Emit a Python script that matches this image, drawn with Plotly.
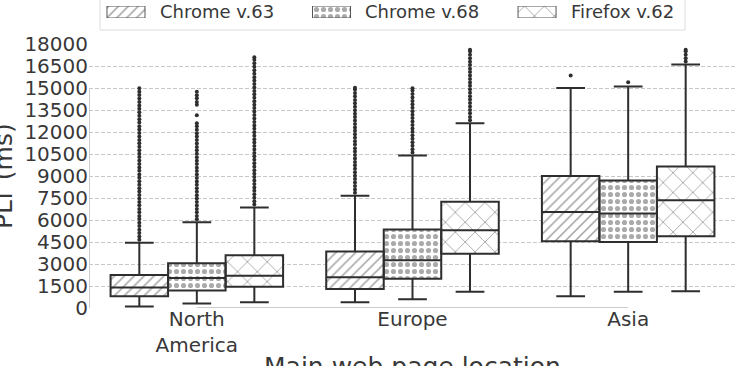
import plotly.graph_objects as go

# ---------------- data ----------------
regions = ["North<br>America", "Europe", "Asia"]
browsers = ["Chrome v.63", "Chrome v.68", "Firefox v.62"]

c63_q1 = [800, 1300, 4550]
c63_med = [1400, 2100, 6550]
c63_q3 = [2250, 3850, 9000]
c63_lo = [100, 400, 800]
c63_hi = [4450, 7650, 15000]
c63_out = [
    [4650, 4880, 5120, 5340, 5590, 5810, 6060, 6280, 6530, 6750, 7000, 7230, 7470, 7700, 7940,
     8160, 8410, 8640, 8880, 9110, 9350, 9580, 9820, 10050, 10290, 10520, 10760, 10990, 11230,
     11460, 11700, 11930, 12170, 12400, 12640, 12870, 13110, 13340, 13580, 13810, 14050, 14280,
     14520, 14750, 14980],
    [7850, 8080, 8320, 8550, 8790, 9020, 9260, 9490, 9730, 9960, 10200, 10430, 10670, 10900,
     11140, 11370, 11610, 11840, 12080, 12310, 12550, 12780, 13020, 13250, 13490, 13720, 13960,
     14190, 14430, 14660, 14900, 15020],
    [15850],
]

c68_q1 = [1200, 2000, 4500]
c68_med = [2050, 3250, 6450]
c68_q3 = [3050, 5350, 8700]
c68_lo = [300, 600, 1100]
c68_hi = [5850, 10400, 15100]
c68_out = [
    [6050, 6280, 6520, 6750, 6990, 7220, 7460, 7690, 7930, 8160, 8400, 8630, 8870, 9100, 9340,
     9570, 9810, 10040, 10280, 10510, 10750, 10980, 11220, 11450, 11690, 11920, 12160, 12390,
     12600, 13150, 13850, 14050, 14300, 14500, 14750],
    [10600, 10830, 11070, 11300, 11540, 11770, 12010, 12240, 12480, 12710, 12950, 13180, 13420,
     13650, 13890, 14120, 14360, 14590, 14830, 14980],
    [15400],
]

ff62_q1 = [1450, 3700, 4900]
ff62_med = [2200, 5300, 7350]
ff62_q3 = [3600, 7250, 9650]
ff62_lo = [400, 1100, 1150]
ff62_hi = [6850, 12600, 16600]
ff62_out = [
    [7050, 7280, 7520, 7750, 7990, 8220, 8460, 8690, 8930, 9160, 9400, 9630, 9870, 10100, 10340,
     10570, 10810, 11040, 11280, 11510, 11750, 11980, 12220, 12450, 12690, 12920, 13160, 13390,
     13630, 13860, 14100, 14330, 14570, 14800, 15040, 15270, 15510, 15740, 15980, 16210, 16450,
     16680, 16920, 17100],
    [12800, 13030, 13270, 13500, 13740, 13970, 14210, 14440, 14680, 14910, 15150, 15380, 15620,
     15850, 16090, 16320, 16560, 16790, 17030, 17260, 17500, 17600],
    [16800, 17030, 17270, 17500, 17600],
]

y_ticks = list(range(0, 18001, 1500))

# ---------------- style ----------------
FONT = "DejaVu Sans"
TXT = "#383838"
EDGE = "#2e2e2e"
GROUP_W = 0.8
BW = GROUP_W / 3
patterns = [dict(shape="/", size=7, solidity=0.22, fgcolor="#444444", bgcolor="white"),
            dict(shape=".", size=7, solidity=0.42, fgcolor="#555555", bgcolor="white"),
            dict(shape="x", size=14, solidity=0.12, fgcolor="#444444", bgcolor="white")]

series = [
    (c63_q1, c63_med, c63_q3, c63_lo, c63_hi, c63_out),
    (c68_q1, c68_med, c68_q3, c68_lo, c68_hi, c68_out),
    (ff62_q1, ff62_med, ff62_q3, ff62_lo, ff62_hi, ff62_out),
]

fig = go.Figure()
for k, (q1, med, q3, lo, hi, outs) in enumerate(series):
    off = (k - 1) * BW
    xs = [i + off for i in range(len(regions))]
    fig.add_trace(go.Bar(
        x=xs, y=[b - a for a, b in zip(q1, q3)], base=q1, width=BW,
        marker=dict(color="white", line=dict(width=0), pattern=patterns[k]),
        showlegend=False, hoverinfo="skip"))
    fig.add_trace(go.Box(
        x=xs, q1=q1, median=med, q3=q3, lowerfence=lo, upperfence=hi,
        width=BW, whiskerwidth=0.5, fillcolor="rgba(0,0,0,0)",
        line=dict(color=EDGE, width=2), boxpoints=False,
        name=browsers[k], showlegend=False))
    ox, oy = [], []
    for i, vals in enumerate(outs):
        for v in vals:
            ox.append(i + off)
            oy.append(v)
    fig.add_trace(go.Scatter(
        x=ox, y=oy, mode="markers",
        marker=dict(size=4, color=EDGE, line=dict(width=0)),
        showlegend=False, hoverinfo="skip"))

# ---------- custom legend (wide hatched patches) on its own axes ----------
leg_slots = list(range(len(browsers)))
for k in leg_slots:
    fig.add_trace(go.Bar(
        x=[k], y=[1], base=[0], width=0.185, xaxis="x2", yaxis="y2",
        marker=dict(color="white", line=dict(width=1, color="#555555"), pattern=patterns[k]),
        showlegend=False, hoverinfo="skip"))

annotations = []
for k in leg_slots:
    annotations.append(dict(x=k + 0.155, y=0.5, xref="x2", yref="y2", text=browsers[k],
                            showarrow=False, xanchor="left", yanchor="middle",
                            font=dict(family=FONT, size=18, color=TXT)))

PH = 308.0  # paper height in px (height - bottom margin)
annotations.append(dict(x=(3 - 89) / 647, y=(PH - 176) / PH, xref="paper", yref="paper",
                        text="PLT (ms)", textangle=-90, showarrow=False,
                        xanchor="center", yanchor="middle",
                        font=dict(family=FONT, size=25, color=TXT)))
annotations.append(dict(x=0.5, y=(PH - 350) / PH, xref="paper", yref="paper",
                        text="Main web page location", showarrow=False,
                        xanchor="center", yanchor="top",
                        font=dict(family=FONT, size=25, color=TXT)))

shapes = [
    dict(type="rect", xref="paper", yref="paper", x0=(100 - 89) / 647, x1=(685 - 89) / 647,
         y0=(PH - 30) / PH, y1=1.1, line=dict(color="#dddddd", width=1), fillcolor="rgba(0,0,0,0)"),
    dict(type="line", xref="x", yref="y", x0=-0.5, x1=-0.5, y0=0, y1=15000,
         line=dict(color="#bbbbbb", width=1.5), layer="below"),
    dict(type="line", xref="x", yref="y", x0=0, x1=2, y0=0, y1=0,
         line=dict(color="#bbbbbb", width=1.5), layer="below"),
]

fig.update_layout(
    width=737, height=366,
    margin=dict(l=89, r=1, t=0, b=58, pad=0, autoexpand=False),
    paper_bgcolor="white", plot_bgcolor="white",
    barmode="overlay", boxmode="overlay",
    font=dict(family=FONT, color=TXT),
    annotations=annotations, shapes=shapes,
    xaxis=dict(range=[-0.5, 2.5], tickvals=list(range(len(regions))), ticktext=regions,
               showgrid=False, zeroline=False, showline=False, ticks="", automargin=False,
               ticklabelstandoff=-3,
               tickfont=dict(family=FONT, size=20, color=TXT), domain=[0, 1]),
    yaxis=dict(range=[0, 18000], tickvals=y_ticks, ticktext=[str(v) for v in y_ticks],
               showgrid=True, gridcolor="#c8c8c8", gridwidth=1, griddash="4px,2px",
               zeroline=False, showline=False, ticks="", automargin=False,
               tickfont=dict(family=FONT, size=20, color=TXT),
               domain=[0, (PH - 44) / PH]),
    xaxis2=dict(range=[-0.18, 2.968], domain=[0, 1], anchor="y2", visible=False, automargin=False),
    yaxis2=dict(range=[0, 1], domain=[(PH - 18) / PH, (PH - 6) / PH], anchor="x2",
                visible=False, automargin=False),
)

fig.write_html("out.html")
